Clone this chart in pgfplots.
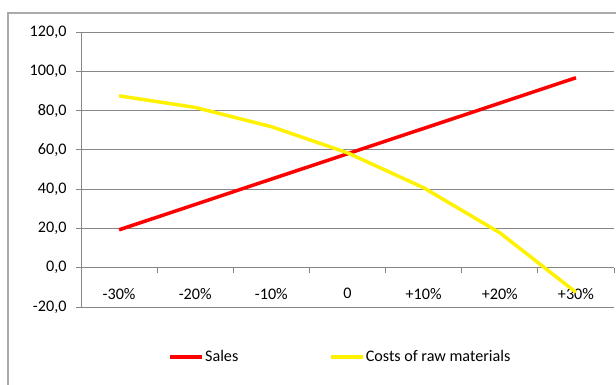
\documentclass[border=0pt]{standalone}
\usepackage{pgfplots}
\pgfplotsset{compat=1.18}
\usepackage{fontspec}
\setmainfont{Carlito}
\definecolor{gridc}{RGB}{134,134,134}
\definecolor{framec}{RGB}{170,170,170}
\begin{document}
\begin{tikzpicture}[font=\fontsize{16.2}{19}\selectfont]
\path[use as bounding box] (0,0) rectangle (616bp,385bp);
\draw[framec, line width=1.2bp] (8bp,0) -- (8bp,372bp) -- (616bp,372bp);
\begin{axis}[
  at={(81bp,78bp)}, anchor=south west,
  scale only axis, width=533bp, height=275bp,
  xmin=-0.5, xmax=6.5, ymin=-20, ymax=120,
  axis x line=middle, axis y line=left,
  hide obscured x ticks=false,
  axis line style={-, gridc, line width=0.8bp},
  xtick={-0.5,0.5,...,6.5},
  x tick label as interval,
  xticklabels={-30\%,-20\%,-10\%,0,+10\%,+20\%,+30\%},
  ytick={-20,0,...,120},
  ymajorgrids, grid style={gridc, line width=0.8bp},
  tick style={gridc, line width=0.8bp},
  tick align=outside, major tick length=5bp,
  xticklabel style={yshift=-12bp},
  yticklabel style={xshift=-6bp},
  /pgf/number format/.cd, fixed, fixed zerofill, precision=1, use comma, assume math mode=true,
  /pgfplots/.cd,
  legend columns=2,
  legend style={draw=none, fill=none, at={(0.486,-0.182)}, anchor=center,
    nodes={inner sep=1bp},
    /tikz/every even column/.append style={column sep=90bp}},
  legend image code/.code={\draw[#1] (0bp,0bp) -- (32bp,0bp);},
]
\addplot[red, line width=3.5bp] coordinates {(0,19.3)(1,32.2)(2,45.1)(3,58.0)(4,70.9)(5,83.8)(6,96.7)};
\addlegendentry{Sales}
\addplot[yellow, line width=3.5bp] coordinates {(0,87.5)(1,81.6)(2,71.8)(3,58.5)(4,40.7)(5,17.8)(6,-12.5)};
\addlegendentry{Costs of raw materials}
\end{axis}
\end{tikzpicture}
\end{document}
